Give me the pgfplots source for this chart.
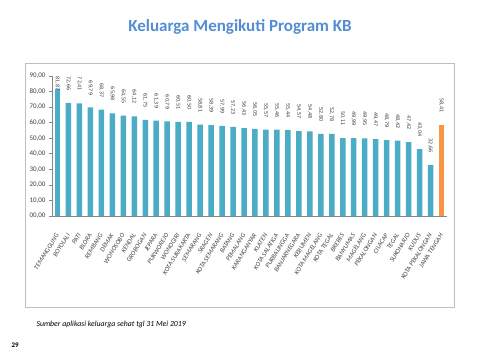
\documentclass[border=0pt]{standalone}
\usepackage{pgfplots}
\pgfplotsset{compat=1.18}
\usepackage{pgfplotstable}
\usepackage{fontspec}
\setmainfont{Carlito}
\newfontfamily\lib{DejaVu Sans}
\definecolor{barteal}{HTML}{4BACC6}
\definecolor{barorange}{HTML}{F79646}
\definecolor{titleblue}{HTML}{548DD4}
\definecolor{txtgray}{HTML}{404040}
\definecolor{boxgray}{HTML}{BFBFBF}
\definecolor{axgray}{HTML}{868686}

\pgfplotstableread{
x y
1 72.66
2 72.41
3 69.79
4 68.37
5 65.98
6 64.55
7 64.12
8 61.75
9 61.39
10 60.79
11 60.51
12 60.50
13 58.81
14 58.39
15 57.99
16 57.23
17 56.43
18 56.05
19 55.57
20 55.46
21 55.44
22 54.57
23 54.48
24 52.80
25 52.78
26 50.11
27 49.99
28 49.95
29 49.47
30 48.79
31 48.42
32 47.42
33 43.04
34 32.66
}\tealdata

\begin{document}
\begin{tikzpicture}
\useasboundingbox (0pt,0pt) rectangle (480pt,360pt);
\fill[white] (0pt,0pt) rectangle (480pt,360pt);
\draw[boxgray,line width=0.8pt] (25pt,53pt) rectangle (454pt,297pt);
\node[font=\fontsize{17}{20}\selectfont\bfseries,text=titleblue] at (240pt,333pt) {Keluarga Mengikuti Program KB};
\node[anchor=west,font=\fontsize{7.8}{9}\selectfont\itshape,text=black] at (33pt,36pt) {Sumber aplikasi keluarga sehat tgl 31 Mei 2019};
\node[anchor=west,font=\fontsize{7}{8}\selectfont\bfseries,text=black] at (8pt,15pt) {29};
\begin{axis}[
  at={(52pt,144pt)}, anchor=south west,
  scale only axis, width=395pt, height=140pt,
  xmin=-0.5, xmax=35.5, ymin=0, ymax=90,
  axis x line*=bottom, axis y line*=left,
  axis line style={axgray, line width=0.6pt},
  tick align=outside,
  ytick={0,10,...,90},
  yticklabels={{00,00},{10,00},{20,00},{30,00},{40,00},{50,00},{60,00},{70,00},{80,00},{90,00}},
  yticklabel style={font=\fontsize{7}{8}\selectfont, text=txtgray},
  ytick style={axgray, line width=0.6pt},
  major tick length=3pt,
  xtick={0,...,35},
  xticklabels={TEMANGGUNG,BOYOLALI,PATI,BLORA,REMBANG,DEMAK,WONOSOBO,KENDAL,GROBOGAN,JEPARA,PURWOREJO,WONOGIRI,KOTA SURAKARTA,SEMARANG,SRAGEN,KOTA SEMARANG,BATANG,PEMALANG,KARANGANYAR,KLATEN,KOTA SALATIGA,PURBALINGGA,BANJARNEGARA,KEBUMEN,KOTA MAGELANG,KOTA TEGAL,BREBES,BANYUMAS,MAGELANG,PEKALONGAN,CILACAP,TEGAL,SUKOHARJO,KUDUS,KOTA PEKALONGAN,JAWA TENGAH},
  x tick style={draw=none},
  minor xtick={-0.5,0.5,...,35.5},
  minor tick length=3pt,
  minor x tick style={axgray, line width=0.6pt},
  xticklabel style={rotate=58, anchor=east, inner sep=0pt, font=\fontsize{6.6}{8}\selectfont\itshape, text=txtgray},
  xticklabel shift=15pt,
  ybar, bar width=5.5pt, bar shift=0pt,
  clip=false,
  nodes near coords={\pgfmathprintnumber[fixed,fixed zerofill,precision=2,use comma,assume math mode=true]{\pgfplotspointmeta}},
  every node near coord/.append style={rotate=-90, anchor=east, inner xsep=12pt, font=\fontsize{5}{6}\selectfont\lib, text=txtgray},
]
\addplot[fill=barteal, draw=none] table[x=x,y=y] {\tealdata};
\addplot[fill=barteal, draw=none, every node near coord/.append style={inner xsep=-2pt}] coordinates {(0,81.87)};
\addplot[fill=barorange, draw=none] coordinates {(35,58.41)};
\end{axis}
\end{tikzpicture}
\end{document}
